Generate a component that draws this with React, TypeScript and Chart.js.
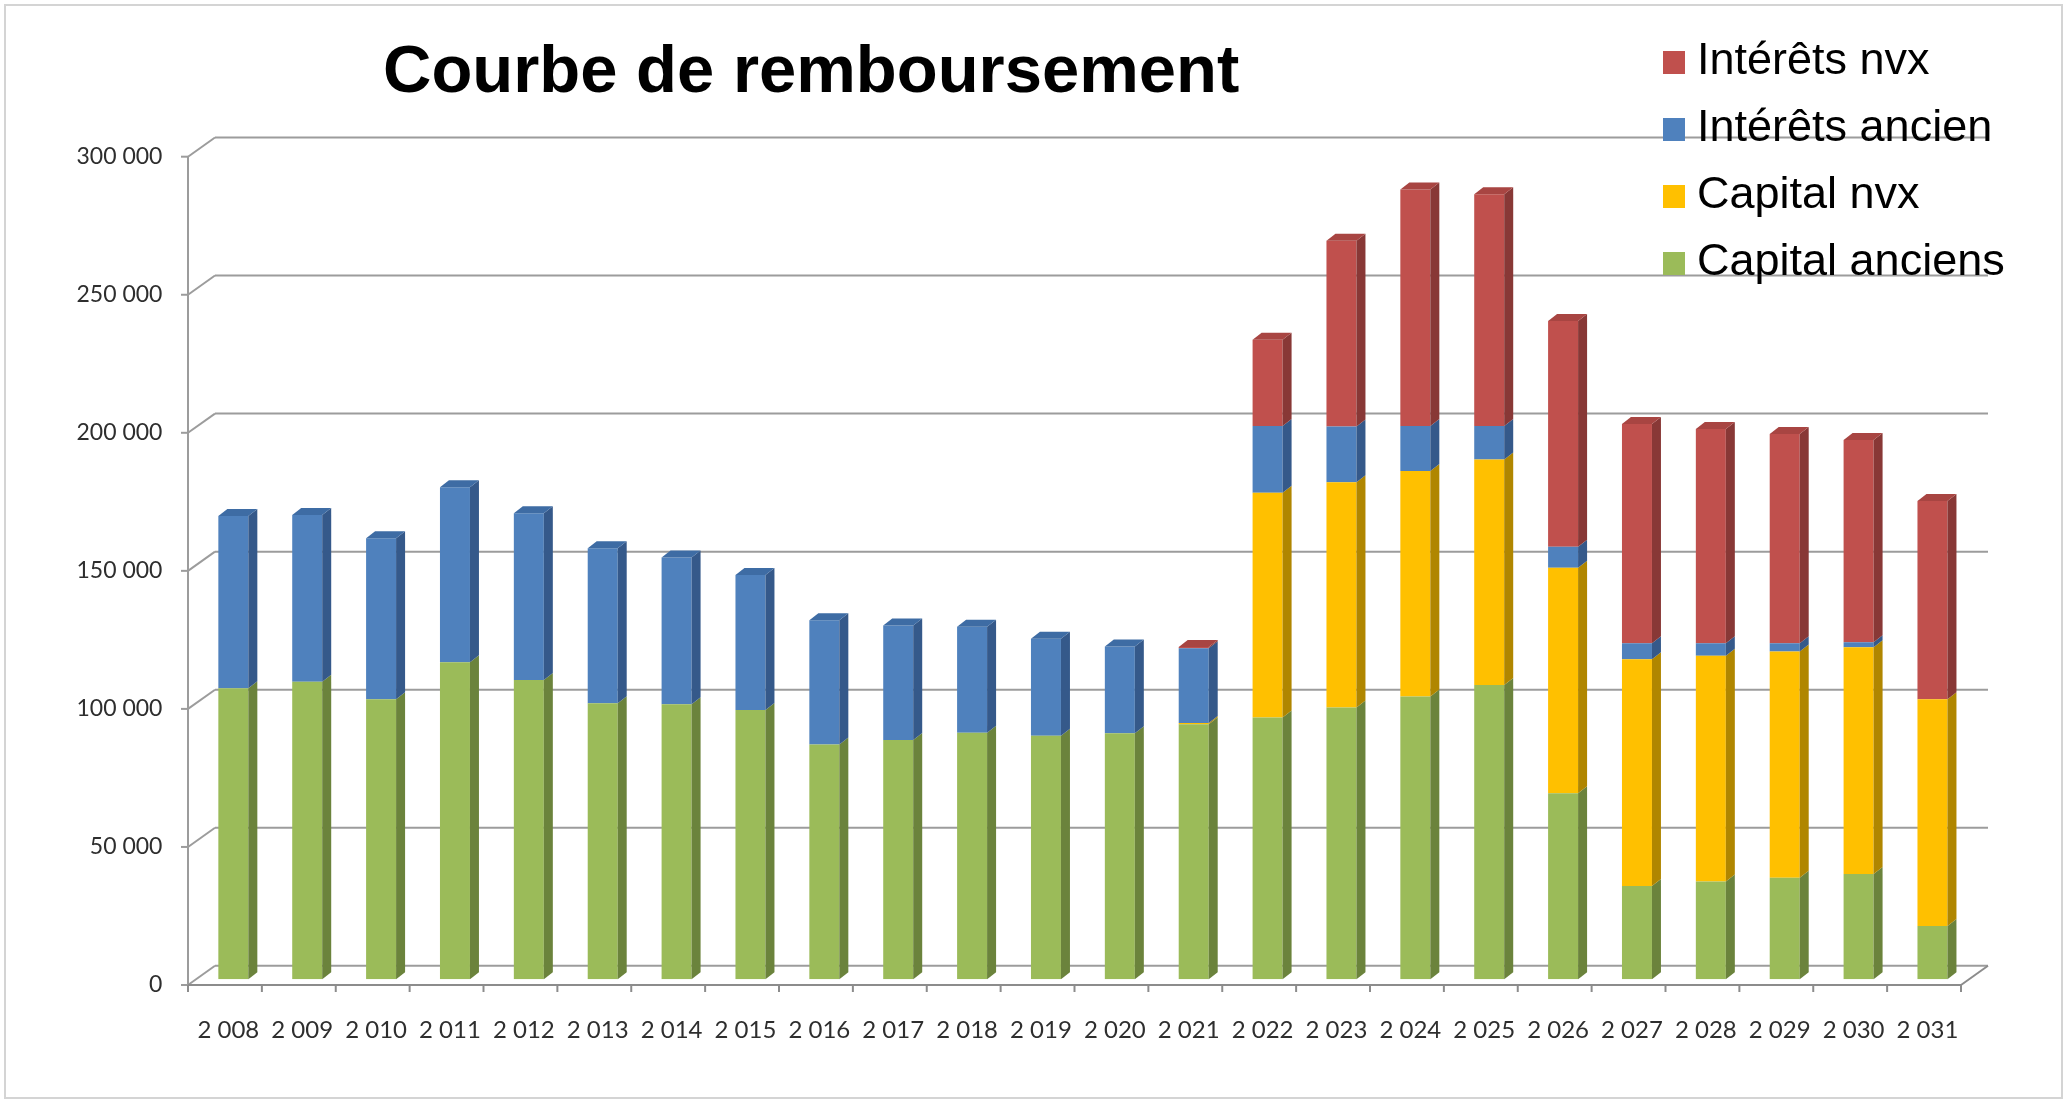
import React, { useEffect, useRef } from 'react';
import { Chart, registerables } from 'chart.js';

Chart.register(...registerables);

// ---------- data ----------
const years = [
  '2 008', '2 009', '2 010', '2 011', '2 012', '2 013', '2 014', '2 015',
  '2 016', '2 017', '2 018', '2 019', '2 020', '2 021', '2 022', '2 023',
  '2 024', '2 025', '2 026', '2 027', '2 028', '2 029', '2 030', '2 031',
];

const capitalAnciens = [
  105400, 107800, 101400, 114800, 108400, 100000, 99600, 97500,
  85000, 86700, 89300, 88200, 89100, 92400, 94800, 98400,
  102400, 106600, 67400, 33800, 35400, 36800, 38100, 19300,
];

const capitalNvx = [
  0, 0, 0, 0, 0, 0, 0, 0,
  0, 0, 0, 0, 0, 400, 81400, 81600,
  81700, 81700, 81700, 82100, 81800, 81900, 82200, 82100,
];

const interetsAncien = [
  62400, 60400, 58300, 63400, 60400, 56100, 53200, 48900,
  45000, 41400, 38400, 35100, 31400, 27100, 24200, 20200,
  16300, 12100, 7600, 5800, 4500, 3000, 1800, 0,
];

const interetsNvx = [
  0, 0, 0, 0, 0, 0, 0, 0,
  0, 0, 0, 0, 0, 500, 31200, 67300,
  85700, 83900, 81700, 79400, 77600, 75800, 73200, 71800,
];

const seriesNames = ['Capital anciens', 'Capital nvx', 'Intérêts ancien', 'Intérêts nvx'];
const yTickLabels = ['0', '50 000', '100 000', '150 000', '200 000', '250 000', '300 000'];
const titleText = 'Courbe de remboursement';

// ---------- styles ----------
const FRONT = ['#9BBB59', '#FFC000', '#4F81BD', '#C0504D'];
const SIDE = ['#6B833C', '#B08600', '#35598A', '#883836'];
const TOPC = ['#86A64A', '#DDA600', '#3E6CA4', '#A84542'];

const FX = -8.4; // front plane offset relative to bar plane
const FY = 5.7;
const BX = 18.6; // back wall offset relative to bar plane
const BY = -13.5;
const SD = 9; // bar side depth x
const SH = 7; // bar side depth y

const W = 2066;
const H = 1101;

function line(ctx: CanvasRenderingContext2D, x1: number, y1: number, x2: number, y2: number) {
  ctx.beginPath();
  ctx.moveTo(x1, y1);
  ctx.lineTo(x2, y2);
  ctx.stroke();
}

const box3d = {
  id: 'box3d',
  beforeDatasetsDraw(chart: any) {
    const { ctx, chartArea, scales } = chart;
    const { left, right, bottom } = chartArea;
    const y = scales.y;
    ctx.save();
    ctx.strokeStyle = '#9C9C9C';
    ctx.lineWidth = 2;
    y.ticks.forEach((t: any) => {
      const py = y.getPixelForValue(t.value);
      line(ctx, left + BX, py + BY, right + BX, py + BY);
      line(ctx, left + FX, py + FY, left + BX, py + BY);
      line(ctx, left + FX - 7, py + FY, left + FX, py + FY);
    });
    const topPx = y.getPixelForValue(y.max);
    line(ctx, left + FX, topPx + FY, left + FX, bottom + FY);
    ctx.strokeStyle = '#8C8C8C';
    line(ctx, left + FX, bottom + FY, right + FX, bottom + FY);
    line(ctx, right + FX, bottom + FY, right + BX, bottom + BY);
    const n = chart.data.labels.length;
    const step = (right - left) / n;
    for (let i = 0; i <= n; i++) {
      const px = left + FX + i * step;
      line(ctx, px, bottom + FY, px, bottom + FY + 7);
    }
    ctx.restore();
  },
  afterDatasetsDraw(chart: any) {
    const { ctx } = chart;
    const nDs = chart.data.datasets.length;
    const n = chart.data.labels.length;
    ctx.save();
    for (let i = 0; i < n; i++) {
      let topEl: any = null;
      let topDs = -1;
      for (let d = 0; d < nDs; d++) {
        const el = chart.getDatasetMeta(d).data[i];
        if (!el) continue;
        const p = el.getProps(['x', 'y', 'base', 'width'], true);
        if (Math.abs(p.base - p.y) < 0.3) continue;
        const xR = p.x + p.width / 2;
        const yT = Math.min(p.y, p.base);
        const yB = Math.max(p.y, p.base);
        ctx.fillStyle = SIDE[d];
        ctx.beginPath();
        ctx.moveTo(xR, yT);
        ctx.lineTo(xR + SD, yT - SH);
        ctx.lineTo(xR + SD, yB - SH);
        ctx.lineTo(xR, yB);
        ctx.closePath();
        ctx.fill();
        topEl = p;
        topDs = d;
      }
      if (topEl) {
        const xL = topEl.x - topEl.width / 2;
        const xR = topEl.x + topEl.width / 2;
        const yT = Math.min(topEl.y, topEl.base);
        ctx.fillStyle = TOPC[topDs];
        ctx.beginPath();
        ctx.moveTo(xL, yT);
        ctx.lineTo(xL + SD, yT - SH);
        ctx.lineTo(xR + SD, yT - SH);
        ctx.lineTo(xR, yT);
        ctx.closePath();
        ctx.fill();
      }
    }
    ctx.restore();
  },
  afterDraw(chart: any) {
    const { ctx } = chart;
    ctx.save();
    // outer frame
    ctx.strokeStyle = '#D4D4D4';
    ctx.lineWidth = 2;
    ctx.strokeRect(5, 5, W - 9, H - 8);
    // title
    ctx.fillStyle = '#000000';
    ctx.font = 'bold 67px "Liberation Sans", Arial, sans-serif';
    ctx.textAlign = 'left';
    ctx.textBaseline = 'alphabetic';
    ctx.fillText(titleText, 383, 92);
    // legend (reverse order)
    ctx.font = '45px "Liberation Sans", Arial, sans-serif';
    ctx.textBaseline = 'middle';
    const ds = chart.data.datasets;
    const centers = [61, 128, 195, 262];
    for (let k = 0; k < ds.length; k++) {
      const d = ds.length - 1 - k;
      const cy = centers[k];
      ctx.fillStyle = ds[d].backgroundColor;
      ctx.fillRect(1663, cy - 10, 22, 23);
      ctx.fillStyle = '#000000';
      ctx.fillText(ds[d].label, 1697, cy + 1);
    }
    ctx.restore();
  },
};

export default function App() {
  const ref = useRef<HTMLCanvasElement | null>(null);

  useEffect(() => {
    document.body.style.margin = '0';
    const canvas = ref.current;
    if (!canvas) return;
    const seriesData = [capitalAnciens, capitalNvx, interetsAncien, interetsNvx];
    const chart = new Chart(canvas, {
      type: 'bar',
      data: {
        labels: years,
        datasets: seriesData.map((arr, i) => ({
          label: seriesNames[i],
          data: arr,
          backgroundColor: FRONT[i],
          borderWidth: 0,
          categoryPercentage: 1,
          barPercentage: 0.406,
        })),
      },
      options: {
        animation: false,
        responsive: false,
        devicePixelRatio: 1,
        layout: {
          padding: { left: 46.4, right: 96.6, top: 151, bottom: 61.7 },
        },
        plugins: {
          legend: { display: false },
          title: { display: false },
          tooltip: { enabled: false },
        },
        scales: {
          x: {
            stacked: true,
            grid: { display: false },
            border: { display: false },
            ticks: {
              font: { family: 'Lato', size: 24 },
              color: '#2E2E2E',
              padding: 29,
              labelOffset: -5,
              maxRotation: 0,
              autoSkip: false,
            },
            afterFit: (s: any) => { s.height = 60; },
          },
          y: {
            stacked: true,
            min: 0,
            max: 300000,
            grid: { display: false },
            border: { display: false },
            ticks: {
              stepSize: 50000,
              font: { family: 'Lato', size: 23 },
              color: '#2E2E2E',
              padding: 26,
              labelOffset: 5.7,
              callback: (_v: any, idx: number) => yTickLabels[idx],
            },
            afterFit: (s: any) => { s.width = 150; },
          },
        },
      },
      plugins: [box3d],
    });
    return () => chart.destroy();
  }, []);

  return (
    <div style={{ position: 'absolute', left: 0, top: 0, width: W, height: H, background: '#fff' }}>
      <canvas ref={ref} width={W} height={H} style={{ width: W, height: H, display: 'block' }} />
    </div>
  );
}
